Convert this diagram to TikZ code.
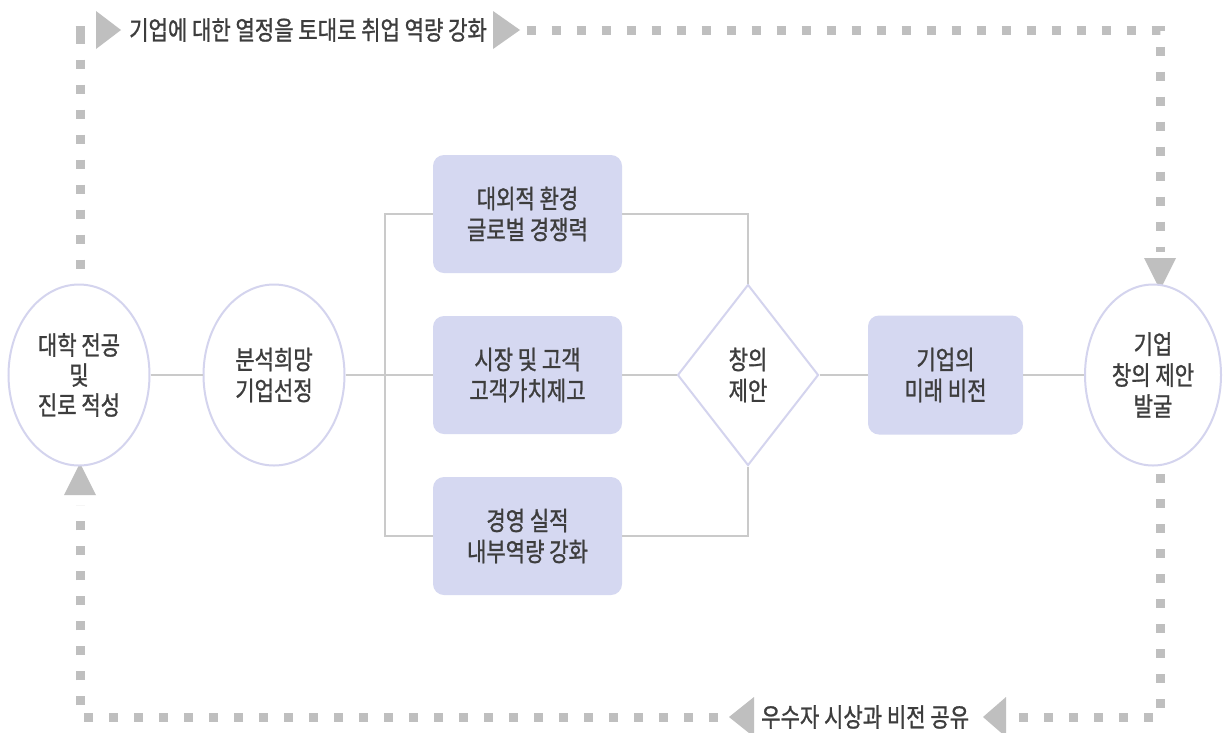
\documentclass[tikz,border=0pt]{standalone}
\usepackage{fontspec}
\setmainfont{Noto Sans CJK KR}[FakeStretch=0.81,FakeBold=1]
\usetikzlibrary{shapes.geometric}
\definecolor{boxfill}{HTML}{D5D8F1}
\definecolor{ellborder}{HTML}{D4D4EE}
\definecolor{lineg}{HTML}{CACACA}
\definecolor{dashg}{HTML}{BFBFBF}
\definecolor{txt}{HTML}{3D3D3D}
\begin{document}
\begin{tikzpicture}[x=1pt,y=-1pt,
  every node/.style={text=txt,font=\fontsize{26}{31}\selectfont,align=center},
  ell/.style={ellipse,draw=ellborder,line width=2pt,fill=white,minimum width=141,minimum height=181,inner sep=0},
  bx/.style={rounded corners=11,fill=boxfill,minimum width=189,minimum height=118,inner sep=0},
  dia/.style={diamond,draw=ellborder,line width=2pt,fill=white,minimum width=141,minimum height=181,inner sep=0},
  conn/.style={draw=lineg,line width=2pt},
  dashline/.style={draw=dashg,line width=9pt,dash pattern=on 9pt off 16pt},
  tri/.style={fill=dashg}]
\useasboundingbox (0,0) rectangle (1225,732);
\fill[white] (0,0) rectangle (1225,732);

% frame corners
\coordinate (tl) at (80,30);
\coordinate (tr) at (1160,30);
\coordinate (bl) at (80,717);
\coordinate (br) at (1160,717);

% dashed frame
\draw[dashline] (75.5,30) -- (90,30);
\draw[dashline] (526.5,30) -- (tr) -- (1160,252);
\draw[dashline] (1160,474) -- (br) -- (1015,717);
\draw[dashline] (718,717) -- (bl) -- (80,505);
\draw[dashline] (80,34.5) -- (80,272);

% arrowheads
\fill[tri] (96,11) -- (121,30) -- (96,49) -- cycle;
\fill[tri] (493,11) -- (520,30) -- (493,49) -- cycle;
\fill[tri] (1144,258) -- (1176,258) -- (1160,290) -- cycle;
\fill[tri] (64,495) -- (96,495) -- (80,463) -- cycle;
\fill[tri] (754,697) -- (729,717) -- (754,737) -- cycle;
\fill[tri] (1006,697) -- (983,717) -- (1006,737) -- cycle;

% frame labels
\node[anchor=west,inner sep=0] (toplabel) at (129,30) {기업에 대한 열정을 토대로 취업 역량 강화};
\node[anchor=west,inner sep=0] (botlabel) at (761,717) {우수자 시상과 비전 공유};

% main nodes
\node[ell] (e1) at (79,375) {대학 전공\\[-1pt]및\\[-1pt]진로 적성};
\node[ell] (e2) at (274,375) {분석희망\\기업선정};
\node[bx] (b1) at (527.5,214) {대외적 환경\\글로벌 경쟁력};
\node[bx] (b2) at (527.5,375) {시장 및 고객\\고객가치제고};
\node[bx] (b3) at (527.5,536) {경영 실적\\내부역량 강화};
\node[dia] (d) at (748,375) {창의\\제안};
\node[bx,minimum width=155,minimum height=119] (b4) at (945.5,375) {기업의\\미래 비전};
\node[ell,minimum width=136] (e3) at (1153,375) {기업\\창의 제안\\발굴};

% connectors
\coordinate (split) at (385,375);
\draw[conn] (e1.east) -- (e2.west);
\draw[conn] (e2.east) -- (split);
\draw[conn] (b1.west) -| (split);
\draw[conn] (b3.west) -| (split);
\draw[conn] (b2.west) -- (split);
\draw[conn] (b1.east) -| (d.north);
\draw[conn] (b3.east) -| (d.south);
\draw[conn] (b2.east) -- (d.west);
\draw[conn] (d.east) -- (b4.west);
\draw[conn] (b4.east) -- (e3.west);
\end{tikzpicture}
\end{document}
